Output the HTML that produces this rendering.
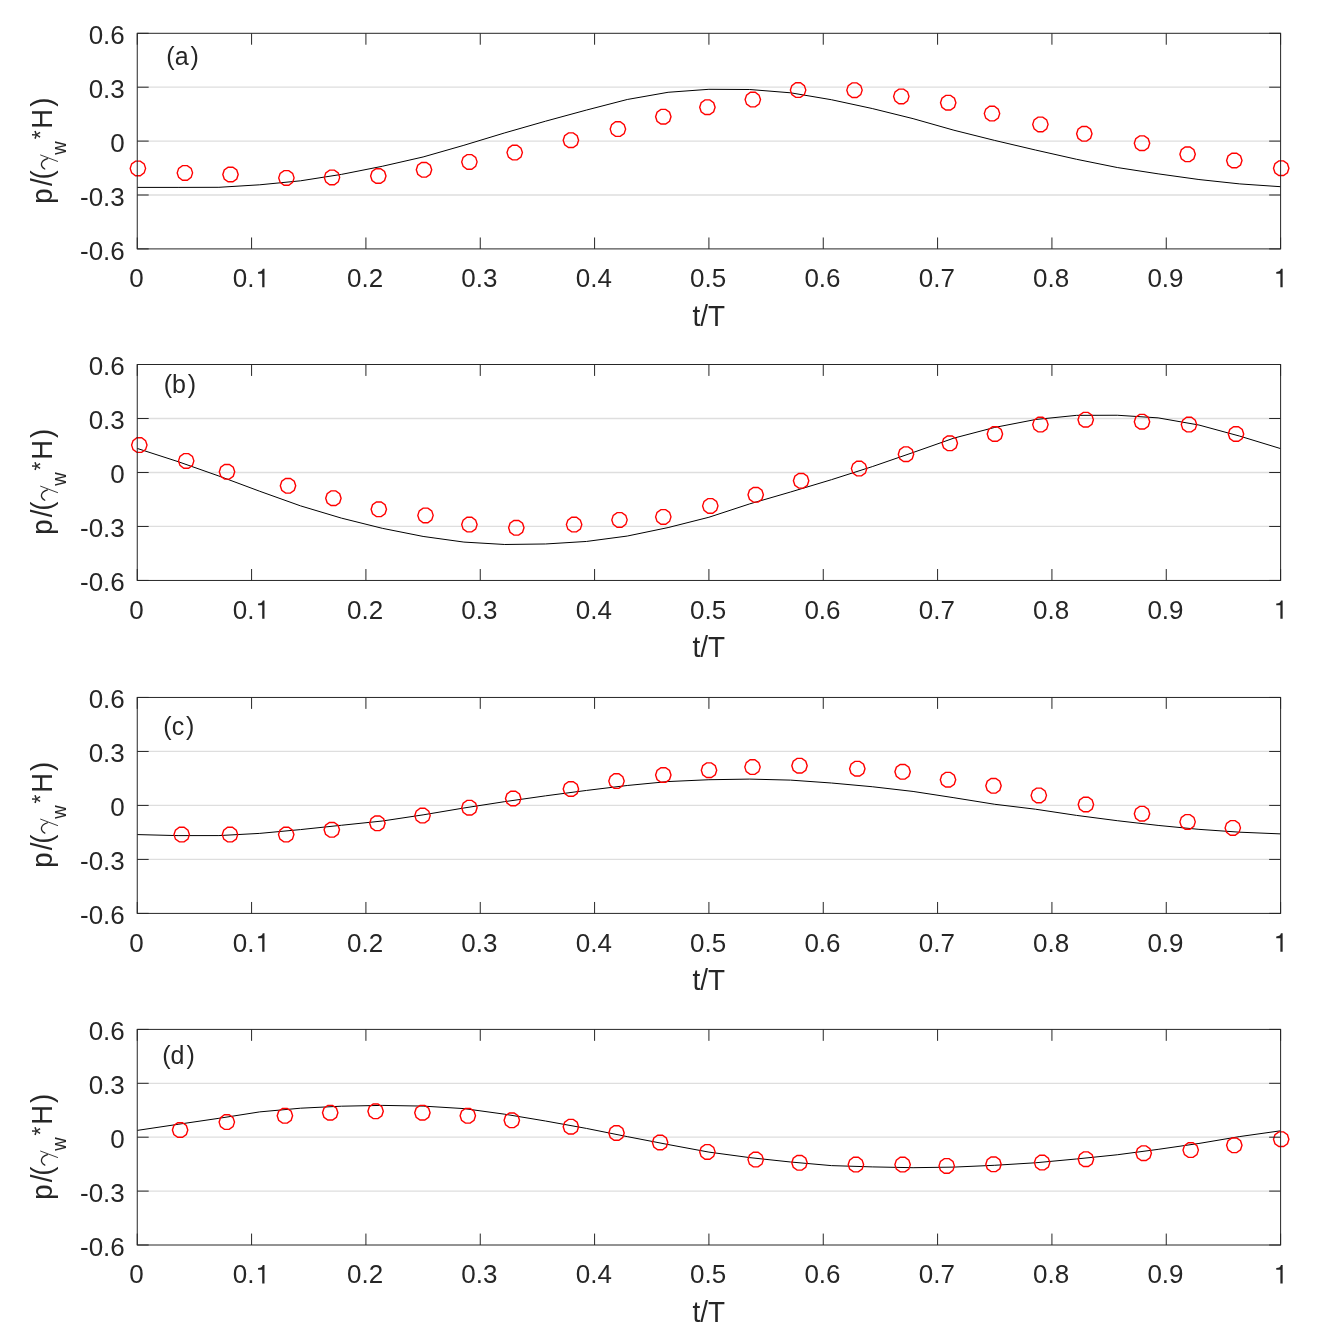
<!DOCTYPE html>
<html><head><meta charset="utf-8"><style>
html,body{margin:0;padding:0;background:#fff;}
body{width:1329px;height:1337px;overflow:hidden;}
svg{display:block;will-change:transform;}
text{font-family:"Liberation Sans",sans-serif;fill:#262626;}
.tk{font-size:26px;}
.pl{font-size:25px;}
.tt{font-size:27.5px;}
.gam{font-family:"Liberation Serif",serif;}
.sub{font-size:19px;}
.g1{fill:#262626;}
</style></head><body>
<svg width="1329" height="1337" viewBox="0 0 1329 1337">
<defs><polygon id="mk" points="7.70,0.00 6.23,4.53 2.38,7.32 -2.38,7.32 -6.23,4.53 -7.70,0.00 -6.23,-4.53 -2.38,-7.32 2.38,-7.32 6.23,-4.53" fill="none" stroke="#ff0000" stroke-width="1.4" stroke-linejoin="miter"/></defs>
<rect width="1329" height="1337" fill="#fff"/>
<line x1="137.25" y1="87.2" x2="1280.6" y2="87.2" stroke="#dedede" stroke-width="1.3"/>
<line x1="137.25" y1="141.1" x2="1280.6" y2="141.1" stroke="#dedede" stroke-width="1.3"/>
<line x1="137.25" y1="195" x2="1280.6" y2="195" stroke="#dedede" stroke-width="1.3"/>
<path d="M137.25,187.4 L178.08,187.4 L218.92,187.3 L259.75,184.8 L300.59,180.8 L341.42,174.4 L382.25,166.29 L423.09,156.98 L463.92,145.29 L504.76,132.88 L545.59,121.18 L586.42,110.07 L627.26,99.49 L668.09,92.29 L708.92,89.3 L749.76,89.51 L790.59,92.81 L831.43,99.72 L872.26,108.54 L913.09,118.65 L953.93,130.23 L994.76,140.44 L1035.6,150.05 L1076.43,159.25 L1117.26,167.53 L1158.1,173.83 L1198.93,179.53 L1239.77,183.92 L1280.6,186.7" fill="none" stroke="#000" stroke-width="1.0" stroke-linejoin="round"/>
<use href="#mk" x="137.9" y="168.4"/>
<use href="#mk" x="184.9" y="172.9"/>
<use href="#mk" x="230.5" y="174.5"/>
<use href="#mk" x="286.4" y="177.9"/>
<use href="#mk" x="332" y="177.4"/>
<use href="#mk" x="378.3" y="176"/>
<use href="#mk" x="424" y="169.8"/>
<use href="#mk" x="469.4" y="161.9"/>
<use href="#mk" x="514.7" y="152.6"/>
<use href="#mk" x="570.9" y="140.2"/>
<use href="#mk" x="617.9" y="129.1"/>
<use href="#mk" x="663.3" y="116.7"/>
<use href="#mk" x="707.4" y="107.2"/>
<use href="#mk" x="752.8" y="99.6"/>
<use href="#mk" x="798.1" y="90.1"/>
<use href="#mk" x="854.5" y="90.15"/>
<use href="#mk" x="901.3" y="96.4"/>
<use href="#mk" x="948.2" y="102.7"/>
<use href="#mk" x="992" y="113.6"/>
<use href="#mk" x="1040.4" y="124.4"/>
<use href="#mk" x="1084.3" y="133.8"/>
<use href="#mk" x="1142" y="143.2"/>
<use href="#mk" x="1187.6" y="154.3"/>
<use href="#mk" x="1234.3" y="160.5"/>
<use href="#mk" x="1281.2" y="168.2"/>
<path d="M137.25,248.9 V237.47 M137.25,33.3 V44.73 M251.58,248.9 V237.47 M251.58,33.3 V44.73 M365.92,248.9 V237.47 M365.92,33.3 V44.73 M480.25,248.9 V237.47 M480.25,33.3 V44.73 M594.59,248.9 V237.47 M594.59,33.3 V44.73 M708.92,248.9 V237.47 M708.92,33.3 V44.73 M823.26,248.9 V237.47 M823.26,33.3 V44.73 M937.59,248.9 V237.47 M937.59,33.3 V44.73 M1051.93,248.9 V237.47 M1051.93,33.3 V44.73 M1166.26,248.9 V237.47 M1166.26,33.3 V44.73 M1280.6,248.9 V237.47 M1280.6,33.3 V44.73 M137.25,33.3 H148.68 M1280.6,33.3 H1269.17 M137.25,87.2 H148.68 M1280.6,87.2 H1269.17 M137.25,141.1 H148.68 M1280.6,141.1 H1269.17 M137.25,195 H148.68 M1280.6,195 H1269.17 M137.25,248.9 H148.68 M1280.6,248.9 H1269.17" fill="none" stroke="#262626" stroke-width="1.0"/>
<rect x="137.25" y="33.3" width="1143.35" height="215.6" fill="none" stroke="#262626" stroke-width="1.0"/>
<g transform="translate(0,287.3) scale(1,1.025) translate(0,-287.3)"><text x="129.22" y="287.3" class="tk">0</text></g>
<g transform="translate(0,287.3) scale(1,1.025) translate(0,-287.3)"><text x="232.71" y="287.3" class="tk">0.</text><path transform="translate(254.4,287.3) scale(0.02600,-0.02600)" d="M300 0H388V692H322C305 620 262 588 142 578V512H300Z" class="g1"/></g>
<g transform="translate(0,287.3) scale(1,1.025) translate(0,-287.3)"><text x="347.05" y="287.3" class="tk">0.2</text></g>
<g transform="translate(0,287.3) scale(1,1.025) translate(0,-287.3)"><text x="461.38" y="287.3" class="tk">0.3</text></g>
<g transform="translate(0,287.3) scale(1,1.025) translate(0,-287.3)"><text x="575.72" y="287.3" class="tk">0.4</text></g>
<g transform="translate(0,287.3) scale(1,1.025) translate(0,-287.3)"><text x="690.05" y="287.3" class="tk">0.5</text></g>
<g transform="translate(0,287.3) scale(1,1.025) translate(0,-287.3)"><text x="804.39" y="287.3" class="tk">0.6</text></g>
<g transform="translate(0,287.3) scale(1,1.025) translate(0,-287.3)"><text x="918.72" y="287.3" class="tk">0.7</text></g>
<g transform="translate(0,287.3) scale(1,1.025) translate(0,-287.3)"><text x="1033.06" y="287.3" class="tk">0.8</text></g>
<g transform="translate(0,287.3) scale(1,1.025) translate(0,-287.3)"><text x="1147.39" y="287.3" class="tk">0.9</text></g>
<g transform="translate(0,287.3) scale(1,1.025) translate(0,-287.3)"><path transform="translate(1272.57,287.3) scale(0.02600,-0.02600)" d="M300 0H388V692H322C305 620 262 588 142 578V512H300Z" class="g1"/></g>
<g transform="translate(0,44.3) scale(1,1.025) translate(0,-44.3)"><text x="88.66" y="44.3" class="tk">0.6</text></g>
<g transform="translate(0,98.2) scale(1,1.025) translate(0,-98.2)"><text x="88.66" y="98.2" class="tk">0.3</text></g>
<g transform="translate(0,152.1) scale(1,1.025) translate(0,-152.1)"><text x="110.34" y="152.1" class="tk">0</text></g>
<g transform="translate(0,206) scale(1,1.025) translate(0,-206)"><text x="80" y="206" class="tk">-0.3</text></g>
<g transform="translate(0,259.9) scale(1,1.025) translate(0,-259.9)"><text x="80" y="259.9" class="tk">-0.6</text></g>
<text transform="translate(708.9,325.5) scale(1,1.065)" x="0" y="0" text-anchor="middle" class="tt" style="font-size:27.9px">t/T</text>
<text transform="translate(52.2,0) rotate(-90) scale(1,1.05)" x="-203.67" y="0" style="font-size:27.5px">p</text>
<text transform="translate(52.2,0) rotate(-90) scale(1,1.05)" x="-186.05" y="0" style="font-size:27.5px">/</text>
<text transform="translate(52.2,0) rotate(-90) scale(1,1.05)" x="-179.61" y="0" style="font-size:27.5px">(</text>
<text transform="translate(66.1,0) rotate(-90) scale(1,1.05)" x="-154.67" y="0" style="font-size:18.6px">w</text>
<text transform="translate(48.7,0) rotate(-90) scale(1,1.05)" x="-139.37" y="0" style="font-size:23px">*</text>
<text transform="translate(52.2,0) rotate(-90) scale(1,1.05)" x="-128.66" y="0" style="font-size:27.5px">H</text>
<text transform="translate(52.2,0) rotate(-90) scale(1,1.05)" x="-106.81" y="0" style="font-size:27.5px">)</text>
<g transform="translate(0,0)" fill="none" stroke="#262626" stroke-linecap="round"><path d="M40.6,155 L57.6,161.4" stroke-width="0.9"/><path d="M44.8,169 C40.2,166.5 39.6,161 47.5,158.6" stroke-width="1.3"/></g>
<text x="166.35" y="64.5" class="pl">(a<tspan dx="1.9">)</tspan></text>
<line x1="137.25" y1="418.49" x2="1280.6" y2="418.49" stroke="#dedede" stroke-width="1.3"/>
<line x1="137.25" y1="472.48" x2="1280.6" y2="472.48" stroke="#dedede" stroke-width="1.3"/>
<line x1="137.25" y1="526.46" x2="1280.6" y2="526.46" stroke="#dedede" stroke-width="1.3"/>
<path d="M137.25,448.45 L178.08,461.65 L218.92,476.04 L259.75,491.27 L300.59,505.88 L341.42,518.11 L382.25,528.31 L423.09,536.43 L463.92,542.09 L504.76,544.49 L545.59,543.98 L586.42,541.46 L627.26,536.06 L668.09,527.57 L708.92,517.25 L749.76,503.87 L790.59,491.99 L831.43,479.7 L872.26,466.63 L913.09,452.5 L953.93,438.1 L994.76,427.42 L1035.6,419.5 L1076.43,415.37 L1117.26,415.24 L1158.1,417.86 L1198.93,425.03 L1239.77,436.14 L1280.6,448.6" fill="none" stroke="#000" stroke-width="1.0" stroke-linejoin="round"/>
<use href="#mk" x="139.3" y="445.1"/>
<use href="#mk" x="186.2" y="460.9"/>
<use href="#mk" x="227" y="471.8"/>
<use href="#mk" x="288" y="485.8"/>
<use href="#mk" x="333.4" y="498.2"/>
<use href="#mk" x="378.8" y="509.3"/>
<use href="#mk" x="425.5" y="515.4"/>
<use href="#mk" x="469.4" y="524.6"/>
<use href="#mk" x="516.3" y="527.8"/>
<use href="#mk" x="574.1" y="524.6"/>
<use href="#mk" x="619.5" y="519.9"/>
<use href="#mk" x="663.3" y="516.9"/>
<use href="#mk" x="710.3" y="505.9"/>
<use href="#mk" x="755.7" y="494.8"/>
<use href="#mk" x="801.1" y="480.8"/>
<use href="#mk" x="859.1" y="468.6"/>
<use href="#mk" x="906" y="454.2"/>
<use href="#mk" x="949.8" y="443.3"/>
<use href="#mk" x="994.9" y="434"/>
<use href="#mk" x="1040.4" y="424.6"/>
<use href="#mk" x="1085.7" y="419.7"/>
<use href="#mk" x="1142" y="421.7"/>
<use href="#mk" x="1189" y="424.6"/>
<use href="#mk" x="1236" y="434"/>
<path d="M137.25,580.45 V569.02 M137.25,364.5 V375.93 M251.58,580.45 V569.02 M251.58,364.5 V375.93 M365.92,580.45 V569.02 M365.92,364.5 V375.93 M480.25,580.45 V569.02 M480.25,364.5 V375.93 M594.59,580.45 V569.02 M594.59,364.5 V375.93 M708.92,580.45 V569.02 M708.92,364.5 V375.93 M823.26,580.45 V569.02 M823.26,364.5 V375.93 M937.59,580.45 V569.02 M937.59,364.5 V375.93 M1051.93,580.45 V569.02 M1051.93,364.5 V375.93 M1166.26,580.45 V569.02 M1166.26,364.5 V375.93 M1280.6,580.45 V569.02 M1280.6,364.5 V375.93 M137.25,364.5 H148.68 M1280.6,364.5 H1269.17 M137.25,418.49 H148.68 M1280.6,418.49 H1269.17 M137.25,472.48 H148.68 M1280.6,472.48 H1269.17 M137.25,526.46 H148.68 M1280.6,526.46 H1269.17 M137.25,580.45 H148.68 M1280.6,580.45 H1269.17" fill="none" stroke="#262626" stroke-width="1.0"/>
<rect x="137.25" y="364.5" width="1143.35" height="215.95" fill="none" stroke="#262626" stroke-width="1.0"/>
<g transform="translate(0,618.85) scale(1,1.025) translate(0,-618.85)"><text x="129.22" y="618.85" class="tk">0</text></g>
<g transform="translate(0,618.85) scale(1,1.025) translate(0,-618.85)"><text x="232.71" y="618.85" class="tk">0.</text><path transform="translate(254.4,618.85) scale(0.02600,-0.02600)" d="M300 0H388V692H322C305 620 262 588 142 578V512H300Z" class="g1"/></g>
<g transform="translate(0,618.85) scale(1,1.025) translate(0,-618.85)"><text x="347.05" y="618.85" class="tk">0.2</text></g>
<g transform="translate(0,618.85) scale(1,1.025) translate(0,-618.85)"><text x="461.38" y="618.85" class="tk">0.3</text></g>
<g transform="translate(0,618.85) scale(1,1.025) translate(0,-618.85)"><text x="575.72" y="618.85" class="tk">0.4</text></g>
<g transform="translate(0,618.85) scale(1,1.025) translate(0,-618.85)"><text x="690.05" y="618.85" class="tk">0.5</text></g>
<g transform="translate(0,618.85) scale(1,1.025) translate(0,-618.85)"><text x="804.39" y="618.85" class="tk">0.6</text></g>
<g transform="translate(0,618.85) scale(1,1.025) translate(0,-618.85)"><text x="918.72" y="618.85" class="tk">0.7</text></g>
<g transform="translate(0,618.85) scale(1,1.025) translate(0,-618.85)"><text x="1033.06" y="618.85" class="tk">0.8</text></g>
<g transform="translate(0,618.85) scale(1,1.025) translate(0,-618.85)"><text x="1147.39" y="618.85" class="tk">0.9</text></g>
<g transform="translate(0,618.85) scale(1,1.025) translate(0,-618.85)"><path transform="translate(1272.57,618.85) scale(0.02600,-0.02600)" d="M300 0H388V692H322C305 620 262 588 142 578V512H300Z" class="g1"/></g>
<g transform="translate(0,375.5) scale(1,1.025) translate(0,-375.5)"><text x="88.66" y="375.5" class="tk">0.6</text></g>
<g transform="translate(0,429.49) scale(1,1.025) translate(0,-429.49)"><text x="88.66" y="429.49" class="tk">0.3</text></g>
<g transform="translate(0,483.48) scale(1,1.025) translate(0,-483.48)"><text x="110.34" y="483.48" class="tk">0</text></g>
<g transform="translate(0,537.46) scale(1,1.025) translate(0,-537.46)"><text x="80" y="537.46" class="tk">-0.3</text></g>
<g transform="translate(0,591.45) scale(1,1.025) translate(0,-591.45)"><text x="80" y="591.45" class="tk">-0.6</text></g>
<text transform="translate(708.9,657.05) scale(1,1.065)" x="0" y="0" text-anchor="middle" class="tt" style="font-size:27.9px">t/T</text>
<text transform="translate(52.2,0) rotate(-90) scale(1,1.05)" x="-534.87" y="0" style="font-size:27.5px">p</text>
<text transform="translate(52.2,0) rotate(-90) scale(1,1.05)" x="-517.25" y="0" style="font-size:27.5px">/</text>
<text transform="translate(52.2,0) rotate(-90) scale(1,1.05)" x="-510.81" y="0" style="font-size:27.5px">(</text>
<text transform="translate(66.1,0) rotate(-90) scale(1,1.05)" x="-485.87" y="0" style="font-size:18.6px">w</text>
<text transform="translate(48.7,0) rotate(-90) scale(1,1.05)" x="-470.57" y="0" style="font-size:23px">*</text>
<text transform="translate(52.2,0) rotate(-90) scale(1,1.05)" x="-459.86" y="0" style="font-size:27.5px">H</text>
<text transform="translate(52.2,0) rotate(-90) scale(1,1.05)" x="-438.01" y="0" style="font-size:27.5px">)</text>
<g transform="translate(0,331.2)" fill="none" stroke="#262626" stroke-linecap="round"><path d="M40.6,155 L57.6,161.4" stroke-width="0.9"/><path d="M44.8,169 C40.2,166.5 39.6,161 47.5,158.6" stroke-width="1.3"/></g>
<text x="163.65" y="392.5" class="pl">(b<tspan dx="1.9">)</tspan></text>
<line x1="137.25" y1="751.44" x2="1280.6" y2="751.44" stroke="#dedede" stroke-width="1.3"/>
<line x1="137.25" y1="805.42" x2="1280.6" y2="805.42" stroke="#dedede" stroke-width="1.3"/>
<line x1="137.25" y1="859.41" x2="1280.6" y2="859.41" stroke="#dedede" stroke-width="1.3"/>
<path d="M137.25,834.59 L178.08,835.62 L218.92,835.59 L259.75,833.39 L300.59,829.59 L341.42,825.27 L382.25,821.02 L423.09,814.87 L463.92,807.99 L504.76,801.64 L545.59,795.84 L586.42,790.45 L627.26,785.49 L668.09,781.56 L708.92,779.73 L749.76,779.1 L790.59,780.12 L831.43,783 L872.26,786.73 L913.09,791.45 L953.93,797.73 L994.76,804.29 L1035.6,809.22 L1076.43,815.38 L1117.26,820.69 L1158.1,825.41 L1198.93,829.35 L1239.77,832.19 L1280.6,833.9" fill="none" stroke="#000" stroke-width="1.0" stroke-linejoin="round"/>
<use href="#mk" x="181.7" y="834.6"/>
<use href="#mk" x="230" y="834.6"/>
<use href="#mk" x="286.2" y="834.6"/>
<use href="#mk" x="331.8" y="829.8"/>
<use href="#mk" x="377.4" y="823.3"/>
<use href="#mk" x="422.5" y="815.6"/>
<use href="#mk" x="469.4" y="807.7"/>
<use href="#mk" x="513.2" y="798.5"/>
<use href="#mk" x="570.9" y="789"/>
<use href="#mk" x="616.5" y="781.1"/>
<use href="#mk" x="663.3" y="775"/>
<use href="#mk" x="709" y="770.2"/>
<use href="#mk" x="752.5" y="767.1"/>
<use href="#mk" x="799.5" y="765.7"/>
<use href="#mk" x="857.3" y="768.7"/>
<use href="#mk" x="902.6" y="771.8"/>
<use href="#mk" x="948" y="779.7"/>
<use href="#mk" x="993.5" y="785.8"/>
<use href="#mk" x="1038.8" y="795.4"/>
<use href="#mk" x="1085.9" y="804.5"/>
<use href="#mk" x="1142" y="813.7"/>
<use href="#mk" x="1187.6" y="821.9"/>
<use href="#mk" x="1232.8" y="827.9"/>
<path d="M137.25,913.4 V901.97 M137.25,697.45 V708.88 M251.58,913.4 V901.97 M251.58,697.45 V708.88 M365.92,913.4 V901.97 M365.92,697.45 V708.88 M480.25,913.4 V901.97 M480.25,697.45 V708.88 M594.59,913.4 V901.97 M594.59,697.45 V708.88 M708.92,913.4 V901.97 M708.92,697.45 V708.88 M823.26,913.4 V901.97 M823.26,697.45 V708.88 M937.59,913.4 V901.97 M937.59,697.45 V708.88 M1051.93,913.4 V901.97 M1051.93,697.45 V708.88 M1166.26,913.4 V901.97 M1166.26,697.45 V708.88 M1280.6,913.4 V901.97 M1280.6,697.45 V708.88 M137.25,697.45 H148.68 M1280.6,697.45 H1269.17 M137.25,751.44 H148.68 M1280.6,751.44 H1269.17 M137.25,805.42 H148.68 M1280.6,805.42 H1269.17 M137.25,859.41 H148.68 M1280.6,859.41 H1269.17 M137.25,913.4 H148.68 M1280.6,913.4 H1269.17" fill="none" stroke="#262626" stroke-width="1.0"/>
<rect x="137.25" y="697.45" width="1143.35" height="215.95" fill="none" stroke="#262626" stroke-width="1.0"/>
<g transform="translate(0,951.8) scale(1,1.025) translate(0,-951.8)"><text x="129.22" y="951.8" class="tk">0</text></g>
<g transform="translate(0,951.8) scale(1,1.025) translate(0,-951.8)"><text x="232.71" y="951.8" class="tk">0.</text><path transform="translate(254.4,951.8) scale(0.02600,-0.02600)" d="M300 0H388V692H322C305 620 262 588 142 578V512H300Z" class="g1"/></g>
<g transform="translate(0,951.8) scale(1,1.025) translate(0,-951.8)"><text x="347.05" y="951.8" class="tk">0.2</text></g>
<g transform="translate(0,951.8) scale(1,1.025) translate(0,-951.8)"><text x="461.38" y="951.8" class="tk">0.3</text></g>
<g transform="translate(0,951.8) scale(1,1.025) translate(0,-951.8)"><text x="575.72" y="951.8" class="tk">0.4</text></g>
<g transform="translate(0,951.8) scale(1,1.025) translate(0,-951.8)"><text x="690.05" y="951.8" class="tk">0.5</text></g>
<g transform="translate(0,951.8) scale(1,1.025) translate(0,-951.8)"><text x="804.39" y="951.8" class="tk">0.6</text></g>
<g transform="translate(0,951.8) scale(1,1.025) translate(0,-951.8)"><text x="918.72" y="951.8" class="tk">0.7</text></g>
<g transform="translate(0,951.8) scale(1,1.025) translate(0,-951.8)"><text x="1033.06" y="951.8" class="tk">0.8</text></g>
<g transform="translate(0,951.8) scale(1,1.025) translate(0,-951.8)"><text x="1147.39" y="951.8" class="tk">0.9</text></g>
<g transform="translate(0,951.8) scale(1,1.025) translate(0,-951.8)"><path transform="translate(1272.57,951.8) scale(0.02600,-0.02600)" d="M300 0H388V692H322C305 620 262 588 142 578V512H300Z" class="g1"/></g>
<g transform="translate(0,708.45) scale(1,1.025) translate(0,-708.45)"><text x="88.66" y="708.45" class="tk">0.6</text></g>
<g transform="translate(0,762.44) scale(1,1.025) translate(0,-762.44)"><text x="88.66" y="762.44" class="tk">0.3</text></g>
<g transform="translate(0,816.42) scale(1,1.025) translate(0,-816.42)"><text x="110.34" y="816.42" class="tk">0</text></g>
<g transform="translate(0,870.41) scale(1,1.025) translate(0,-870.41)"><text x="80" y="870.41" class="tk">-0.3</text></g>
<g transform="translate(0,924.4) scale(1,1.025) translate(0,-924.4)"><text x="80" y="924.4" class="tk">-0.6</text></g>
<text transform="translate(708.9,990) scale(1,1.065)" x="0" y="0" text-anchor="middle" class="tt" style="font-size:27.9px">t/T</text>
<text transform="translate(52.2,0) rotate(-90) scale(1,1.05)" x="-867.82" y="0" style="font-size:27.5px">p</text>
<text transform="translate(52.2,0) rotate(-90) scale(1,1.05)" x="-850.2" y="0" style="font-size:27.5px">/</text>
<text transform="translate(52.2,0) rotate(-90) scale(1,1.05)" x="-843.76" y="0" style="font-size:27.5px">(</text>
<text transform="translate(66.1,0) rotate(-90) scale(1,1.05)" x="-818.82" y="0" style="font-size:18.6px">w</text>
<text transform="translate(48.7,0) rotate(-90) scale(1,1.05)" x="-803.52" y="0" style="font-size:23px">*</text>
<text transform="translate(52.2,0) rotate(-90) scale(1,1.05)" x="-792.81" y="0" style="font-size:27.5px">H</text>
<text transform="translate(52.2,0) rotate(-90) scale(1,1.05)" x="-770.96" y="0" style="font-size:27.5px">)</text>
<g transform="translate(0,664.15)" fill="none" stroke="#262626" stroke-linecap="round"><path d="M40.6,155 L57.6,161.4" stroke-width="0.9"/><path d="M44.8,169 C40.2,166.5 39.6,161 47.5,158.6" stroke-width="1.3"/></g>
<text x="163.35" y="735.3" class="pl">(c<tspan dx="1.9">)</tspan></text>
<line x1="137.25" y1="1083.3" x2="1280.6" y2="1083.3" stroke="#dedede" stroke-width="1.3"/>
<line x1="137.25" y1="1137.2" x2="1280.6" y2="1137.2" stroke="#dedede" stroke-width="1.3"/>
<line x1="137.25" y1="1191.1" x2="1280.6" y2="1191.1" stroke="#dedede" stroke-width="1.3"/>
<path d="M137.25,1130.4 L178.08,1124.3 L218.92,1118.3 L259.75,1111.89 L300.59,1108.2 L341.42,1106.2 L382.25,1105.4 L423.09,1106.1 L463.92,1108.6 L504.76,1114.21 L545.59,1121.02 L586.42,1128.42 L627.26,1136.61 L668.09,1144.52 L708.92,1152.12 L749.76,1157.62 L790.59,1162.01 L831.43,1165.61 L872.26,1166.9 L913.09,1167.7 L953.93,1167.1 L994.76,1165.29 L1035.6,1162.78 L1076.43,1158.98 L1117.26,1154.78 L1158.1,1149.37 L1198.93,1143.46 L1239.77,1136.56 L1280.6,1130.8" fill="none" stroke="#000" stroke-width="1.0" stroke-linejoin="round"/>
<use href="#mk" x="180.1" y="1130"/>
<use href="#mk" x="226.8" y="1122.1"/>
<use href="#mk" x="284.9" y="1115.8"/>
<use href="#mk" x="330.2" y="1112.7"/>
<use href="#mk" x="375.6" y="1111.3"/>
<use href="#mk" x="422.4" y="1112.7"/>
<use href="#mk" x="467.8" y="1115.8"/>
<use href="#mk" x="511.8" y="1120.3"/>
<use href="#mk" x="570.9" y="1126.7"/>
<use href="#mk" x="616.5" y="1133"/>
<use href="#mk" x="660.1" y="1142.5"/>
<use href="#mk" x="707.4" y="1151.9"/>
<use href="#mk" x="755.7" y="1159.6"/>
<use href="#mk" x="799.5" y="1162.8"/>
<use href="#mk" x="855.9" y="1164.6"/>
<use href="#mk" x="902.6" y="1164.6"/>
<use href="#mk" x="946.7" y="1165.9"/>
<use href="#mk" x="993.5" y="1164.3"/>
<use href="#mk" x="1042.1" y="1162.6"/>
<use href="#mk" x="1085.9" y="1159.2"/>
<use href="#mk" x="1143.7" y="1153.2"/>
<use href="#mk" x="1190.7" y="1150.1"/>
<use href="#mk" x="1234.3" y="1145.3"/>
<use href="#mk" x="1281.2" y="1139.2"/>
<path d="M137.25,1245 V1233.57 M137.25,1029.4 V1040.83 M251.58,1245 V1233.57 M251.58,1029.4 V1040.83 M365.92,1245 V1233.57 M365.92,1029.4 V1040.83 M480.25,1245 V1233.57 M480.25,1029.4 V1040.83 M594.59,1245 V1233.57 M594.59,1029.4 V1040.83 M708.92,1245 V1233.57 M708.92,1029.4 V1040.83 M823.26,1245 V1233.57 M823.26,1029.4 V1040.83 M937.59,1245 V1233.57 M937.59,1029.4 V1040.83 M1051.93,1245 V1233.57 M1051.93,1029.4 V1040.83 M1166.26,1245 V1233.57 M1166.26,1029.4 V1040.83 M1280.6,1245 V1233.57 M1280.6,1029.4 V1040.83 M137.25,1029.4 H148.68 M1280.6,1029.4 H1269.17 M137.25,1083.3 H148.68 M1280.6,1083.3 H1269.17 M137.25,1137.2 H148.68 M1280.6,1137.2 H1269.17 M137.25,1191.1 H148.68 M1280.6,1191.1 H1269.17 M137.25,1245 H148.68 M1280.6,1245 H1269.17" fill="none" stroke="#262626" stroke-width="1.0"/>
<rect x="137.25" y="1029.4" width="1143.35" height="215.6" fill="none" stroke="#262626" stroke-width="1.0"/>
<g transform="translate(0,1283.4) scale(1,1.025) translate(0,-1283.4)"><text x="129.22" y="1283.4" class="tk">0</text></g>
<g transform="translate(0,1283.4) scale(1,1.025) translate(0,-1283.4)"><text x="232.71" y="1283.4" class="tk">0.</text><path transform="translate(254.4,1283.4) scale(0.02600,-0.02600)" d="M300 0H388V692H322C305 620 262 588 142 578V512H300Z" class="g1"/></g>
<g transform="translate(0,1283.4) scale(1,1.025) translate(0,-1283.4)"><text x="347.05" y="1283.4" class="tk">0.2</text></g>
<g transform="translate(0,1283.4) scale(1,1.025) translate(0,-1283.4)"><text x="461.38" y="1283.4" class="tk">0.3</text></g>
<g transform="translate(0,1283.4) scale(1,1.025) translate(0,-1283.4)"><text x="575.72" y="1283.4" class="tk">0.4</text></g>
<g transform="translate(0,1283.4) scale(1,1.025) translate(0,-1283.4)"><text x="690.05" y="1283.4" class="tk">0.5</text></g>
<g transform="translate(0,1283.4) scale(1,1.025) translate(0,-1283.4)"><text x="804.39" y="1283.4" class="tk">0.6</text></g>
<g transform="translate(0,1283.4) scale(1,1.025) translate(0,-1283.4)"><text x="918.72" y="1283.4" class="tk">0.7</text></g>
<g transform="translate(0,1283.4) scale(1,1.025) translate(0,-1283.4)"><text x="1033.06" y="1283.4" class="tk">0.8</text></g>
<g transform="translate(0,1283.4) scale(1,1.025) translate(0,-1283.4)"><text x="1147.39" y="1283.4" class="tk">0.9</text></g>
<g transform="translate(0,1283.4) scale(1,1.025) translate(0,-1283.4)"><path transform="translate(1272.57,1283.4) scale(0.02600,-0.02600)" d="M300 0H388V692H322C305 620 262 588 142 578V512H300Z" class="g1"/></g>
<g transform="translate(0,1040.4) scale(1,1.025) translate(0,-1040.4)"><text x="88.66" y="1040.4" class="tk">0.6</text></g>
<g transform="translate(0,1094.3) scale(1,1.025) translate(0,-1094.3)"><text x="88.66" y="1094.3" class="tk">0.3</text></g>
<g transform="translate(0,1148.2) scale(1,1.025) translate(0,-1148.2)"><text x="110.34" y="1148.2" class="tk">0</text></g>
<g transform="translate(0,1202.1) scale(1,1.025) translate(0,-1202.1)"><text x="80" y="1202.1" class="tk">-0.3</text></g>
<g transform="translate(0,1256) scale(1,1.025) translate(0,-1256)"><text x="80" y="1256" class="tk">-0.6</text></g>
<text transform="translate(708.9,1321.6) scale(1,1.065)" x="0" y="0" text-anchor="middle" class="tt" style="font-size:27.9px">t/T</text>
<text transform="translate(52.2,0) rotate(-90) scale(1,1.05)" x="-1199.77" y="0" style="font-size:27.5px">p</text>
<text transform="translate(52.2,0) rotate(-90) scale(1,1.05)" x="-1182.15" y="0" style="font-size:27.5px">/</text>
<text transform="translate(52.2,0) rotate(-90) scale(1,1.05)" x="-1175.71" y="0" style="font-size:27.5px">(</text>
<text transform="translate(66.1,0) rotate(-90) scale(1,1.05)" x="-1150.77" y="0" style="font-size:18.6px">w</text>
<text transform="translate(48.7,0) rotate(-90) scale(1,1.05)" x="-1135.47" y="0" style="font-size:23px">*</text>
<text transform="translate(52.2,0) rotate(-90) scale(1,1.05)" x="-1124.76" y="0" style="font-size:27.5px">H</text>
<text transform="translate(52.2,0) rotate(-90) scale(1,1.05)" x="-1102.91" y="0" style="font-size:27.5px">)</text>
<g transform="translate(0,996.1)" fill="none" stroke="#262626" stroke-linecap="round"><path d="M40.6,155 L57.6,161.4" stroke-width="0.9"/><path d="M44.8,169 C40.2,166.5 39.6,161 47.5,158.6" stroke-width="1.3"/></g>
<text x="162.25" y="1063.5" class="pl">(d<tspan dx="1.9">)</tspan></text>
</svg>
</body></html>
